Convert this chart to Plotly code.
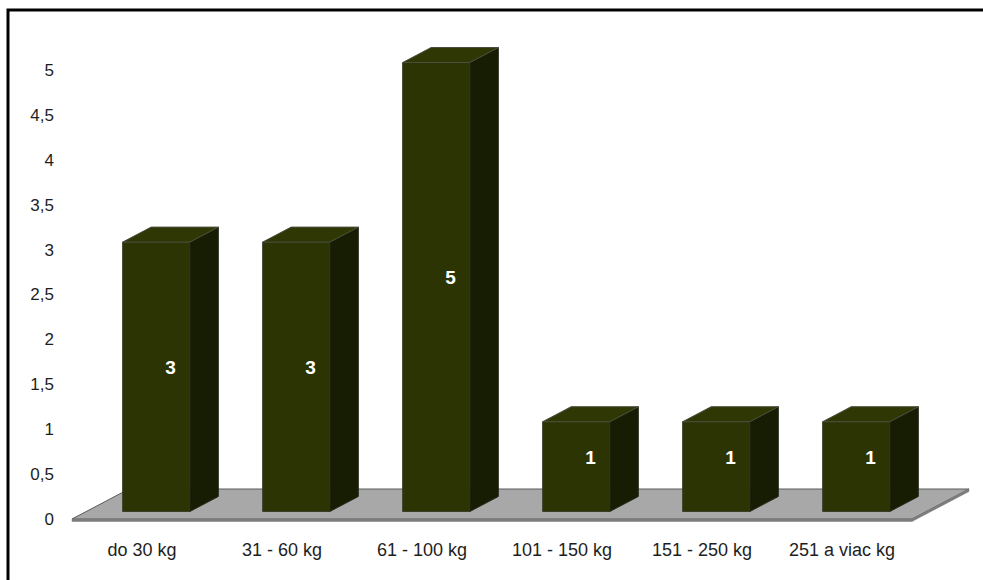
import plotly.graph_objects as go

# Počet podľa hmotnostnej kategórie
categories = ["do 30 kg", "31 - 60 kg", "61 - 100 kg", "101 - 150 kg", "151 - 250 kg", "251 a viac kg"]
counts = [3, 3, 5, 1, 1, 1]
y_ticks = [0, 0.5, 1, 1.5, 2, 2.5, 3, 3.5, 4, 4.5, 5]

# Pseudo-3D geometry (axis units)
PX_X = 140.0            # pixels per category
PX_Y = 89.8             # pixels per unit of value
DEPTH_DX = 57.0 / PX_X  # floor depth, horizontal component
DEPTH_DY = 30.0 / PX_Y  # floor depth, vertical component
BAR_HALF = 0.24
Z_FRONT, Z_BACK = 0.25, 0.75
FLOOR_EDGE = 2.5 / PX_Y

FRONT = "#2c3404"
SIDE = "#171d02"
TOP = "#2f3805"
FLOOR = "#a8a8a8"
FLOOR_DARK = "#7c7c7c"


def proj(x, y, z):
    return x + z * DEPTH_DX, y + z * DEPTH_DY


def poly(points, fill, line_color, line_width=1):
    xs, ys = zip(*[proj(*p) for p in points])
    return go.Scatter(
        x=list(xs) + [xs[0]], y=list(ys) + [ys[0]],
        mode="lines", fill="toself", fillcolor=fill,
        line=dict(color=line_color, width=line_width),
        hoverinfo="skip", showlegend=False,
    )


fig = go.Figure()

n = len(categories)
left, right = -0.5, n - 0.5

# floor slab
fig.add_trace(poly([(left, 0, 0), (right, 0, 0), (right, 0, 1), (left, 0, 1)], FLOOR, "#5a5a5a", 1))
fig.add_trace(poly([(left, 0, 0), (right, 0, 0), (right, -FLOOR_EDGE, 0), (left, -FLOOR_EDGE, 0)],
                   FLOOR_DARK, FLOOR_DARK, 0.5))
fig.add_trace(poly([(right, 0, 0), (right, 0, 1), (right, -FLOOR_EDGE, 1), (right, -FLOOR_EDGE, 0)],
                   FLOOR_DARK, FLOOR_DARK, 0.5))

# bars
label_x, label_y = [], []
for i, v in enumerate(counts):
    x0, x1 = i - BAR_HALF, i + BAR_HALF
    fig.add_trace(poly([(x0, 0, Z_FRONT), (x1, 0, Z_FRONT), (x1, v, Z_FRONT), (x0, v, Z_FRONT)],
                       FRONT, "#3a3f2a", 1))
    fig.add_trace(poly([(x1, 0, Z_FRONT), (x1, 0, Z_BACK), (x1, v, Z_BACK), (x1, v, Z_FRONT)],
                       SIDE, "#2a2d20", 1))
    fig.add_trace(poly([(x0, v, Z_FRONT), (x1, v, Z_FRONT), (x1, v, Z_BACK), (x0, v, Z_BACK)],
                       TOP, "#4a4e3c", 1))
    bx, by = proj(x0, 0, Z_FRONT)
    tx, ty = proj(x1, v, Z_BACK)
    label_x.append((bx + tx) / 2)
    label_y.append((by + ty) / 2)

fig.add_trace(go.Scatter(
    x=label_x, y=label_y, mode="text", text=[str(v) for v in counts],
    textposition="middle center",
    textfont=dict(family="Liberation Sans, Arial, sans-serif", size=19, color="white", weight="bold"),
    hoverinfo="skip", showlegend=False,
))

W, H = 983, 580
ML, MR, MT, MB = 62, 1, 43, 43
FLOOR_PX = 519   # pixel row of the value 0 line
x_min = -(142 - ML) / PX_X
x_max = x_min + (W - ML - MR) / PX_X
y_min = -((H - MB) - FLOOR_PX) / PX_Y
y_max = y_min + (H - MT - MB) / PX_Y

fig.update_layout(
    width=W, height=H, autosize=False,
    margin=dict(l=ML, r=MR, t=MT, b=MB),
    paper_bgcolor="white", plot_bgcolor="white",
    separators=", ",
    font=dict(family="Liberation Sans, Arial, sans-serif", size=17, color="#1e1e1e"),
    xaxis=dict(
        range=[x_min, x_max], tickmode="array",
        tickvals=list(range(n)), ticktext=categories,
        showgrid=False, zeroline=False, showline=False, ticks="",
        tickfont=dict(size=18, color="#1e1e1e"),
    ),
    yaxis=dict(
        range=[y_min, y_max], tickmode="array",
        tickvals=y_ticks, ticktext=[f"{t:g}".replace(".", ",") for t in y_ticks],
        showgrid=False, zeroline=False, showline=False, ticks="",
        ticklabelstandoff=7,
        tickfont=dict(size=17, color="#1e1e1e"),
    ),
    shapes=[dict(
        type="rect", xref="paper", yref="paper",
        x0=(8 - ML) / (W - ML - MR), x1=(W + 10 - ML) / (W - ML - MR),
        y0=-(MB + 20) / (H - MT - MB), y1=(H - MT - 10) / (H - MT - MB),
        line=dict(color="black", width=3), fillcolor="rgba(0,0,0,0)", layer="above",
    )],
)

fig.write_html("out.html")
